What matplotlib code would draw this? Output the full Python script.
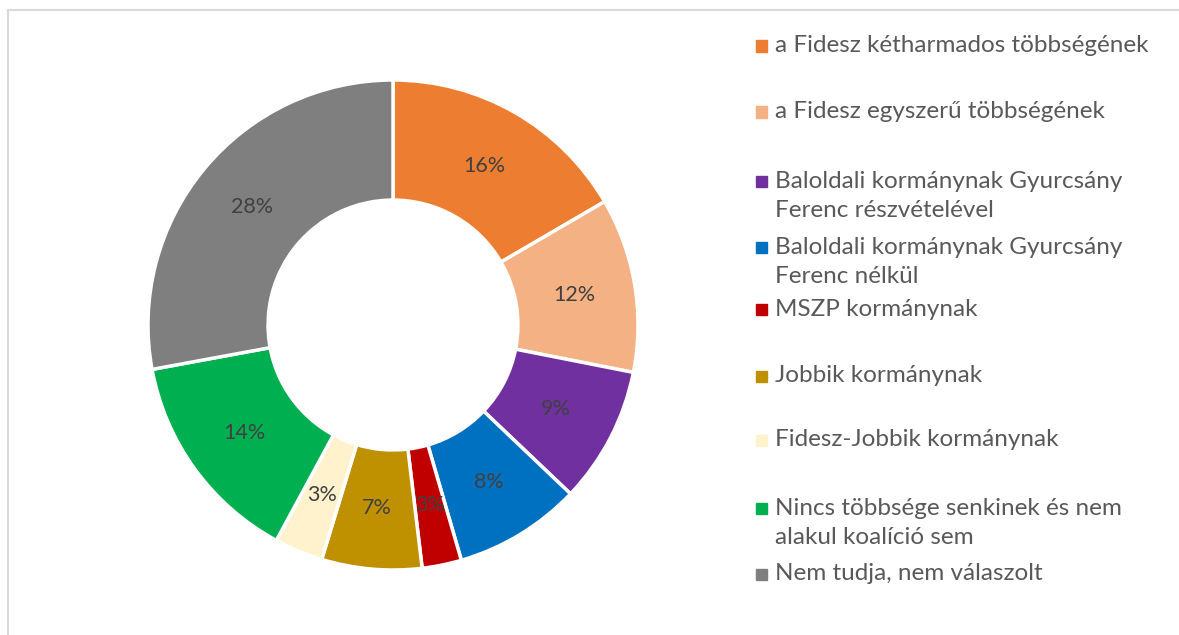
import matplotlib.pyplot as plt
from matplotlib.patches import Rectangle

# ---- data ----
labels = [
    'a Fidesz kétharmados többségének',
    'a Fidesz egyszerű többségének',
    'Baloldali kormánynak Gyurcsány\nFerenc részvételével',
    'Baloldali kormánynak Gyurcsány\nFerenc nélkül',
    'MSZP kormánynak',
    'Jobbik kormánynak',
    'Fidesz-Jobbik kormánynak',
    'Nincs többsége senkinek és nem\nalakul koalíció sem',
    'Nem tudja, nem válaszolt',
]
values = [16.6, 11.5, 9.0, 8.4, 2.6, 6.6, 3.2, 14.2, 27.9]
pct_labels = ['16%', '12%', '9%', '8%', '3%', '7%', '3%', '14%', '28%']
colors = ['#ED7D31', '#F4B183', '#7030A0', '#0070C0', '#C00000',
          '#BF9000', '#FFF2CC', '#00B050', '#7F7F7F']

plt.rcParams['font.family'] = ['Lato', 'DejaVu Sans']
text_col = '#595959'

fig = plt.figure(figsize=(11.79, 6.35), dpi=100)
W, H = 1179, 635

# light grey frame (cut off on right/bottom like the original)
fig.patches.append(Rectangle((8 / W, -0.1), 1.2, (635 - 10) / H + 0.1,
                             transform=fig.transFigure, fill=False,
                             edgecolor='#D9D9D9', lw=1.5))

# donut: centre (393, 325) px, radius 245 px
cx, cy, R = 393, 325, 245
ax = fig.add_axes([(cx - R) / W, (H - cy - R) / H, 2 * R / W, 2 * R / H])
lab_iter = iter(pct_labels)
wedges, texts, autotexts = ax.pie(
    values, colors=colors, startangle=90, counterclock=False,
    radius=1, autopct=lambda p: next(lab_iter), pctdistance=0.75,
    wedgeprops=dict(width=0.49, edgecolor='white', linewidth=2.5),
    textprops=dict(color='#404040', fontsize=15.5))
ax.set_xlim(-1, 1)
ax.set_ylim(-1, 1)
ax.set_aspect('equal')
ax.axis('off')

# legend, placed by hand to mimic Excel's layout
leg_y = [46, 112, 196, 262, 310, 376, 440, 523, 574]
for lab, col, y in zip(labels, colors, leg_y):
    nlines = lab.count('\n') + 1
    top = y - (nlines - 1) * 15
    fig.patches.append(Rectangle((756 / W, 1 - (top + 5.5) / H), 11 / W, 11 / H,
                                 transform=fig.transFigure, color=col))
    fig.text(775 / W, 1 - y / H, lab, ha='left', va='center',
             fontsize=17.5, color=text_col, linespacing=1.45)

plt.savefig('out.png', dpi=100)
